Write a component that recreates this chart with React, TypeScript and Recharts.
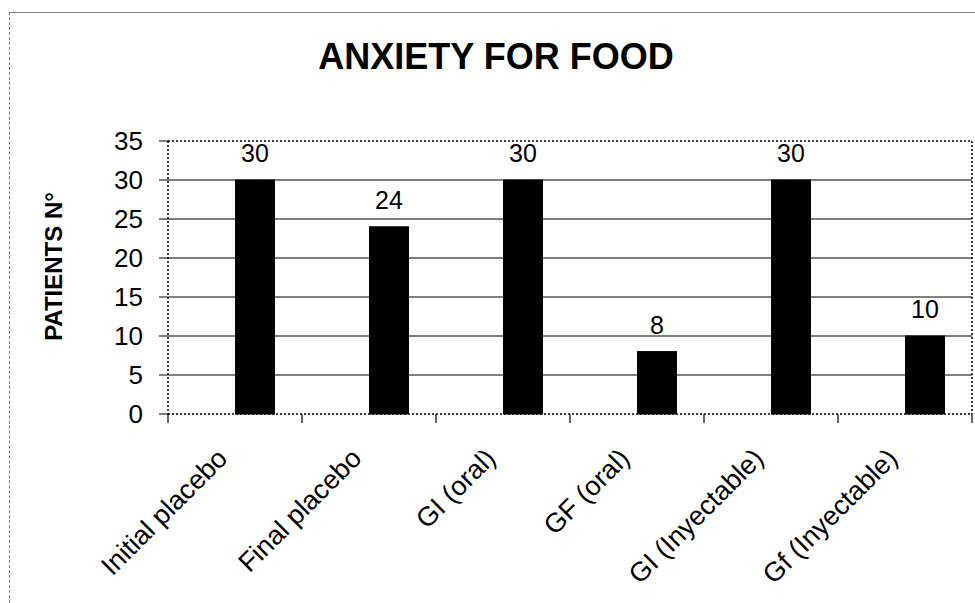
import React from 'react';
import {
  BarChart,
  Bar,
  XAxis,
  YAxis,
  CartesianGrid,
  ReferenceLine,
  LabelList,
} from 'recharts';

const categories = [
  'Initial placebo',
  'Final placebo',
  'GI (oral)',
  'GF (oral)',
  'GI (Inyectable)',
  'Gf (Inyectable)',
];
const patients = [30, 24, 30, 8, 30, 10];
const yTicks = [0, 5, 10, 15, 20, 25, 30, 35];
const gridValues = [5, 10, 15, 20, 25, 30];

const data = categories.map((name, i) => ({ name, value: patients[i] }));

const FONT = '"Liberation Sans", Arial, sans-serif';

const ShiftedBar = (props: any) => {
  const { x, y, width, height } = props;
  return <rect x={x + width / 2} y={y} width={width} height={height} fill="#000" stroke="#000" />;
};

const ValueLabel = (props: any) => {
  const { x, y, width, value } = props;
  return (
    <text x={x + width} y={y - 18} textAnchor="middle" fontFamily={FONT} fontSize={25} fill="#000">
      {value}
    </text>
  );
};

const XTick = (props: any) => {
  const { x, y, payload, index } = props;
  const half = payload && typeof payload.offset === 'number' && payload.offset > 0 ? payload.offset : 67;
  const ax = x - 6;
  const ay = y + 46;
  const last = index === categories.length - 1;
  return (
    <g>
      <line x1={x - half} x2={x - half} y1={y} y2={y + 9} stroke="#000" strokeWidth={1.2} />
      {last && <line x1={x + half} x2={x + half} y1={y} y2={y + 9} stroke="#000" strokeWidth={1.2} />}
      <text
        x={ax}
        y={ay}
        transform={`rotate(-45 ${ax} ${ay})`}
        textAnchor="end"
        fontFamily={FONT}
        fontSize={27}
        fill="#000"
      >
        {payload.value}
      </text>
    </g>
  );
};

const YLabel = (props: any) => {
  const { viewBox } = props;
  const cx = 53;
  const cy = viewBox.y + viewBox.height / 2 - 11;
  return (
    <text
      x={cx}
      y={cy}
      transform={`rotate(-90 ${cx} ${cy})`}
      textAnchor="middle"
      dominantBaseline="central"
      fontFamily={FONT}
      fontWeight="bold"
      fontSize={24}
      fill="#000"
    >
      PATIENTS N°
    </text>
  );
};

export default function App() {
  return (
    <div style={{ position: 'absolute', left: 0, top: 0, width: 975, height: 603, background: '#fff' }}>
      <div
        style={{
          position: 'absolute',
          left: 9,
          top: 12,
          width: 966,
          height: 591,
          borderTop: '1.5px solid #808080',
          borderLeft: '1.5px dashed #808080',
          boxSizing: 'border-box',
        }}
      />
      <div
        style={{
          position: 'absolute',
          left: 0,
          top: 39,
          width: 992,
          textAlign: 'center',
          fontFamily: FONT,
          fontWeight: 'bold',
          fontSize: 36,
          lineHeight: '36px',
          color: '#000',
        }}
      >
        ANXIETY FOR FOOD
      </div>
      <div style={{ position: 'absolute', left: 0, top: 0 }}>
        <BarChart
          width={975}
          height={603}
          data={data}
          margin={{ top: 141, right: 0, bottom: 0, left: 0 }}
        >
          <CartesianGrid
            vertical={false}
            horizontalValues={gridValues}
            stroke="#000"
            strokeWidth={1.2}
          />
          <XAxis
            dataKey="name"
            height={189}
            interval={0}
            tick={XTick}
            tickSize={0}
            tickMargin={0}
            tickLine={false}
            axisLine={{ stroke: '#000', strokeDasharray: '2 2', strokeWidth: 1.5 }}
          />
          <YAxis
            width={168}
            domain={[0, 35]}
            ticks={yTicks}
            interval={0}
            tickSize={9}
            tickMargin={16}
            tickLine={{ stroke: '#000' }}
            axisLine={{ stroke: '#000', strokeDasharray: '2 2', strokeWidth: 1.5 }}
            tick={{ fontFamily: FONT, fontSize: 26, fill: '#000' }}
            label={<YLabel />}
          />
          <YAxis
            yAxisId="r"
            orientation="right"
            width={3}
            domain={[0, 35]}
            tick={false}
            tickLine={false}
            axisLine={{ stroke: '#000', strokeDasharray: '2 2', strokeWidth: 1.5 }}
          />
          <ReferenceLine y={35} stroke="#000" strokeDasharray="2 2" strokeWidth={1.5} />
          <Bar dataKey="value" barSize={39} shape={ShiftedBar} isAnimationActive={false}>
            <LabelList dataKey="value" content={ValueLabel} />
          </Bar>
        </BarChart>
      </div>
    </div>
  );
}
